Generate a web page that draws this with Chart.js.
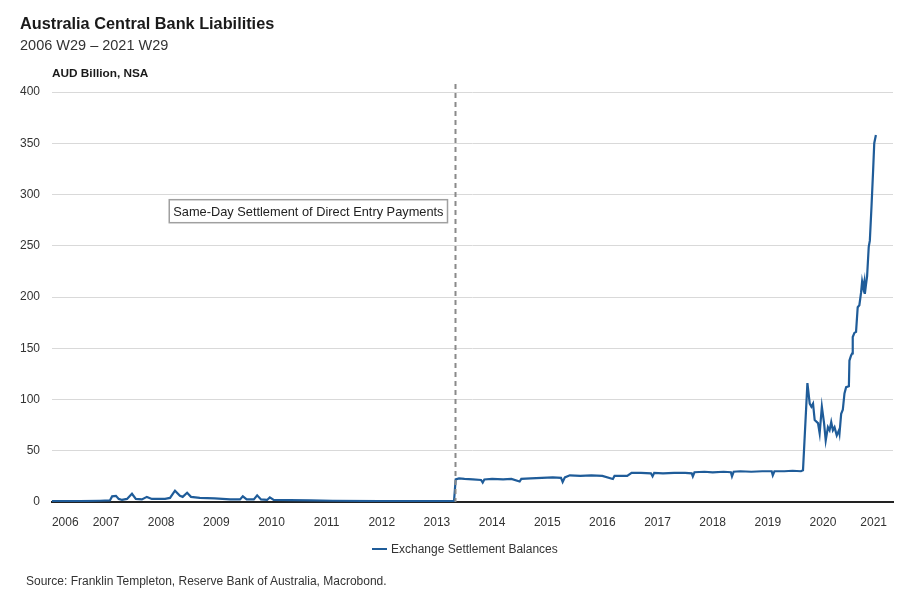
<!DOCTYPE html>
<html>
<head>
<meta charset="utf-8">
<title>Australia Central Bank Liabilities</title>
<script src="https://cdn.jsdelivr.net/npm/chart.js@4.4.1/dist/chart.umd.min.js"></script>
<style>
  html, body { margin: 0; padding: 0; background: #fff; }
  body { width: 919px; height: 606px; position: relative; overflow: hidden;
         font-family: "Liberation Sans", Arial, sans-serif; color: #222; }
  #wrap { position: absolute; left: 0; top: 0; width: 919px; height: 606px; }
  .txt { position: absolute; white-space: nowrap; }
  #title { left: 20px; top: 14px; font-size: 16.3px; font-weight: bold; color: #1a1a1a; }
  #subtitle { left: 20px; top: 37px; font-size: 14.5px; color: #333; }
  #unit { left: 52px; top: 66px; font-size: 11.8px; font-weight: bold; color: #1a1a1a; }
  #legend { left: 372px; top: 542px; font-size: 12px; color: #333; }
  #legend span.swatch { display: inline-block; width: 15px; height: 2px; background: #1f5c99;
                        vertical-align: middle; margin-right: 4px; position: relative; top: -1px; }
  #source { left: 26px; top: 574px; font-size: 12px; color: #333; }
</style>
</head>
<body>
<div id="wrap"><canvas id="chart"></canvas></div>
<div id="title" class="txt">Australia Central Bank Liabilities</div>
<div id="subtitle" class="txt">2006 W29 – 2021 W29</div>
<div id="unit" class="txt">AUD Billion, NSA</div>
<div id="legend" class="txt"><span class="swatch"></span>Exchange Settlement Balances</div>
<div id="source" class="txt">Source: Franklin Templeton, Reserve Bank of Australia, Macrobond.</div>

<script>
// Dates as decimal years, values in AUD billion
const dates = [
  2006.52, 2007.03, 2007.39, 2007.57, 2007.61, 2007.68, 2007.73, 2007.79, 2007.88, 2007.97,
  2008.04, 2008.15, 2008.24, 2008.33, 2008.57, 2008.66, 2008.75, 2008.84, 2008.89, 2008.97,
  2009.04, 2009.20, 2009.47, 2009.75, 2009.93, 2009.98, 2010.05, 2010.18, 2010.24, 2010.31,
  2010.42, 2010.47, 2010.54, 2010.83, 2011.20, 2011.61, 2012.47, 2013.19, 2013.81,
  2013.84, 2013.90, 2014.00, 2014.15, 2014.30, 2014.33, 2014.36, 2014.50, 2014.70, 2014.85,
  2015.00, 2015.03, 2015.20, 2015.40, 2015.60, 2015.75, 2015.78, 2015.82, 2015.91, 2016.10,
  2016.30, 2016.50, 2016.69, 2016.72, 2016.95, 2017.03, 2017.20, 2017.38, 2017.41, 2017.44,
  2017.60, 2017.80, 2018.00, 2018.12, 2018.14, 2018.17, 2018.35, 2018.50, 2018.70, 2018.83,
  2018.85, 2018.88, 2019.00, 2019.20, 2019.40, 2019.57, 2019.59, 2019.62, 2019.80, 2019.95,
  2020.10, 2020.138, 2020.218, 2020.26, 2020.29, 2020.32, 2020.35, 2020.41, 2020.44, 2020.48,
  2020.52, 2020.55, 2020.59, 2020.62, 2020.65, 2020.68, 2020.71, 2020.75, 2020.79, 2020.80,
  2020.83, 2020.86, 2020.89, 2020.92, 2020.97, 2020.98, 2021.01, 2021.03, 2021.04, 2021.07,
  2021.10, 2021.13, 2021.16, 2021.19, 2021.21, 2021.23, 2021.25, 2021.26, 2021.28, 2021.30,
  2021.33, 2021.35, 2021.38, 2021.41, 2021.43, 2021.46
];
const balances = [
  1.0, 1.0, 1.2, 1.5, 5.5, 6.0, 3.0, 2.0, 3.0, 8.0,
  3.0, 2.5, 5.0, 3.0, 3.0, 4.0, 11.0, 6.0, 5.0, 9.0,
  5.0, 4.0, 3.5, 2.5, 2.5, 5.5, 2.5, 2.5, 6.5, 2.5,
  2.0, 4.5, 2.0, 1.8, 1.5, 1.2, 1.0, 1.0, 1.0,
  22.0, 23.0, 22.5, 22.0, 21.5, 19.0, 22.0, 22.5, 22.0, 22.5,
  20.0, 22.5, 23.0, 23.5, 24.0, 23.5, 19.5, 24.0, 26.0, 25.5,
  26.0, 25.5, 22.5, 25.5, 25.5, 28.5, 28.5, 28.0, 25.0, 28.5,
  28.0, 28.5, 28.5, 28.0, 25.0, 29.0, 29.5, 29.0, 29.5, 29.0,
  25.0, 29.5, 30.0, 29.5, 30.0, 30.0, 26.0, 30.0, 30.0, 30.5,
  30.0, 31.0, 116.0, 96.0, 93.0, 96.0, 80.0, 77.0, 67.0, 93.0,
  77.0, 60.0, 73.0, 70.0, 78.0, 70.0, 73.0, 65.0, 70.0, 67.0,
  86.0, 90.0, 106.0, 112.0, 113.0, 138.0, 143.0, 145.0, 161.0, 165.0,
  166.0, 190.0, 192.0, 204.0, 215.0, 209.0, 215.0, 203.0, 212.0, 220.0,
  249.0, 255.0, 288.0, 324.0, 350.0, 358.0
];

// x-axis year labels: sit in the middle of each year's visible stretch
const yearTickPos = [2006.76, 2007.5, 2008.5, 2009.5, 2010.5, 2011.5, 2012.5, 2013.5,
                     2014.5, 2015.5, 2016.5, 2017.5, 2018.5, 2019.5, 2020.5, 2021.42];
const yearTickLabels = ['2006', '2007', '2008', '2009', '2010', '2011', '2012', '2013',
                        '2014', '2015', '2016', '2017', '2018', '2019', '2020', '2021'];

const eventDate = 2013.84;
const eventLabel = 'Same-Day Settlement of Direct Entry Payments';

const lineColor = '#1f5c99';
const tickFont = { family: '"Liberation Sans", Arial, sans-serif', size: 12 };

// dashed event line + boxed label
const eventPlugin = {
  id: 'eventMarker',
  afterDatasetsDraw(chart) {
    const { ctx, chartArea, scales } = chart;
    const x = Math.round(scales.x.getPixelForValue(eventDate)) - 0.5;
    ctx.save();
    ctx.strokeStyle = '#8a8a8a';
    ctx.lineWidth = 2;
    ctx.setLineDash([5, 4]);
    ctx.beginPath();
    ctx.moveTo(x, chartArea.top - 8);
    ctx.lineTo(x, chartArea.bottom);
    ctx.stroke();
    ctx.setLineDash([]);

    ctx.font = '12.8px "Liberation Sans", Arial, sans-serif';
    const w = ctx.measureText(eventLabel).width + 8;
    const h = 23;
    const bx = x - 8 - w;
    const by = scales.y.getPixelForValue(292) - 3;
    ctx.fillStyle = '#fff';
    ctx.fillRect(bx, by, w, h);
    ctx.strokeStyle = '#a0a0a0';
    ctx.lineWidth = 1.5;
    ctx.strokeRect(bx, by, w, h);
    ctx.fillStyle = '#222';
    ctx.textBaseline = 'middle';
    ctx.fillText(eventLabel, bx + 4, by + h / 2 + 1);
    ctx.restore();
  }
};

new Chart(document.getElementById('chart').getContext('2d'), {
  type: 'line',
  data: {
    datasets: [{
      label: 'Exchange Settlement Balances',
      data: dates.map((d, i) => ({ x: d, y: balances[i] })),
      borderColor: lineColor,
      borderWidth: 2.2,
      pointRadius: 0,
      tension: 0,
      fill: false
    }]
  },
  options: {
    responsive: true,
    maintainAspectRatio: false,
    animation: false,
    layout: { padding: { left: 12, top: 92, right: 26, bottom: 74 } },
    plugins: {
      legend: { display: false },
      tooltip: { enabled: false }
    },
    scales: {
      x: {
        type: 'linear',
        min: 2006.52,
        max: 2021.77,
        afterBuildTicks: (scale) => {
          scale.ticks = yearTickPos.map(v => ({ value: v }));
        },
        afterFit: (scale) => { scale.height = 30; },
        ticks: {
          autoSkip: false,
          maxRotation: 0,
          padding: 13,
          color: '#333',
          font: tickFont,
          callback: (value, index) => yearTickLabels[index]
        },
        grid: { display: false, drawTicks: false },
        border: { display: true, color: '#222', width: 2 }
      },
      y: {
        min: 0,
        max: 400,
        afterFit: (scale) => { scale.width = 40; },
        ticks: {
          stepSize: 50,
          padding: 12,
          color: '#333',
          font: tickFont
        },
        grid: { color: '#d9d9d9', lineWidth: 1, drawTicks: false },
        border: { display: false }
      }
    }
  },
  plugins: [eventPlugin]
});
</script>
</body>
</html>
